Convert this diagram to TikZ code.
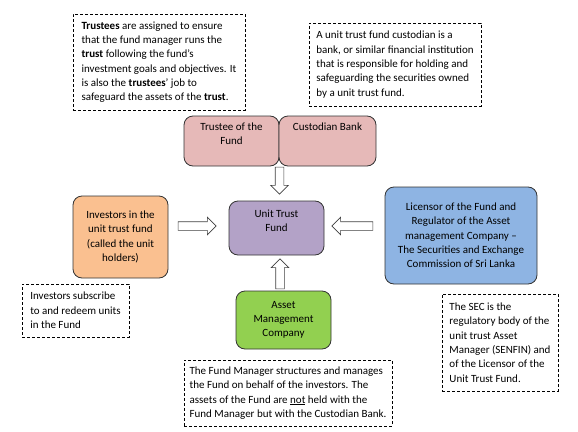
\documentclass[tikz,border=0pt]{standalone}
\usepackage{fontspec}
\setmainfont{Carlito}
\usepackage{tikz}
\usetikzlibrary{shapes.arrows}
\definecolor{trusteepink}{HTML}{E6B9B8}
\definecolor{fundpurple}{HTML}{B3A2C7}
\definecolor{investororange}{HTML}{FAC090}
\definecolor{secblue}{HTML}{8EB4E3}
\definecolor{amcgreen}{HTML}{92D050}

\begin{document}
\begin{tikzpicture}[x=1pt, y=-1pt,
    every node/.style={font=\fontsize{11}{14.3}\selectfont},
    note/.style={draw, line width=0.7pt, dash pattern=on 3pt off 2pt, align=left, inner sep=0pt},
    party/.style={draw=black!80, line width=0.8pt, rounded corners=9pt, align=center, inner sep=0pt},
    blockarrow/.style={single arrow, draw=black!75, fill=white, line width=0.6pt, inner sep=4pt, single arrow head extend=4.5pt}]
    \useasboundingbox (0,0) rectangle (578,431);
    % notes round the diagram
    \node[note, minimum width=172, minimum height=96] (trusteenote) at (159,62) {\textbf{Trustees} are assigned to ensure\\ that the fund manager runs the\\ \textbf{trust} following the fund's\\ investment goals and objectives. It\\ is also the \textbf{trustees}' job to\\ safeguard the assets of the \textbf{trust}.};
    \node[note, minimum width=172, minimum height=83] (custodiannote) at (395,64.5) {A unit trust fund custodian is a\\ bank, or similar financial institution\\ that is responsible for holding and\\ safeguarding the securities owned\\ by a unit trust fund.};
    \node[note, minimum width=107, minimum height=53] (investornote) at (75.5,310.5) {Investors subscribe\\ to and redeem units\\ in the Fund};
    \node[note, minimum width=208, minimum height=66] (managernote) at (288,393) {The Fund Manager structures and manages\\ the Fund on behalf of the investors. The\\ assets of the Fund are \underline{not} held with the\\ Fund Manager but with the Custodian Bank.};
    \node[note, minimum width=116, minimum height=97] (secnote) at (500,342.5) {The SEC is the\\ regulatory body of the\\ unit trust Asset\\ Manager (SENFIN) and\\ of the Licensor of the\\ Unit Trust Fund.};
    % block arrows
    \node[blockarrow, shape border rotate=270, minimum height=27] (arrowdown) at (279.5,178.5) {};
    \node[blockarrow, shape border rotate=90, minimum height=30] (arrowup) at (280,276) {};
    \node[blockarrow, shape border rotate=0, minimum height=38] (arrowright) at (195,226) {};
    \node[blockarrow, shape border rotate=180, minimum height=41] (arrowleft) at (354.5,226) {};
    % parties
    \node[party, fill=trusteepink, minimum width=95, minimum height=50] (trustee) at (231.5,141) {};
    \node[party, fill=trusteepink, minimum width=97, minimum height=50] (custodian) at (327.5,141) {};
    \node[anchor=north, align=center, inner sep=0pt] (trusteetext) at ([yshift=-7]trustee.north) {Trustee of the\\ Fund};
    \node[anchor=north, inner sep=0pt] (custodiantext) at ([yshift=-7]custodian.north) {Custodian Bank};
    \node[party, fill=fundpurple, minimum width=95, minimum height=54, text depth=14pt] (fund) at (276.5,228) {Unit Trust\\ Fund};
    \node[party, fill=investororange, minimum width=95, minimum height=82] (investors) at (120.5,237) {Investors in the\\ unit trust fund\\ (called the unit\\ holders)};
    \node[party, fill=secblue, minimum width=152, minimum height=97] (sec) at (461,235.5) {Licensor of the Fund and\\ Regulator of the Asset\\ management Company --\\ The Securities and Exchange\\ Commission of Sri Lanka};
    \node[party, fill=amcgreen, minimum width=95, minimum height=58] (amc) at (283.5,320) {Asset\\ Management\\ Company};
\end{tikzpicture}
\end{document}
